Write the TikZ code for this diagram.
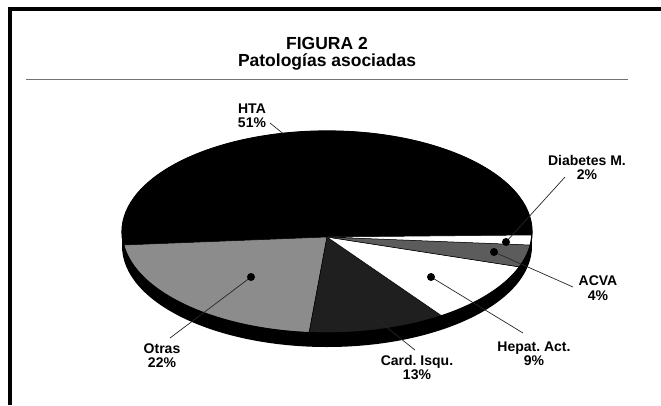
\documentclass[tikz,border=0pt]{standalone}
\usepackage{fontspec}
\setmainfont{Liberation Sans}
\frenchspacing
\definecolor{otrasgray}{gray}{0.55}
\definecolor{cardgray}{gray}{0.12}
\definecolor{acvagray}{gray}{0.36}
\tikzset{
  titletext/.style={font=\fontsize{17.5}{17}\selectfont\bfseries, inner sep=0pt},
  lbl/.style={font=\fontsize{14}{14.5}\selectfont\bfseries, align=center, inner sep=0pt},
  slice/.style={draw=black, line width=0.5pt},
  leader/.style={draw=black!85, line width=0.7pt},
  dot/.style={fill=black}
}
\begin{document}
\begin{tikzpicture}[x=1pt,y=-1pt]
\useasboundingbox (0,0) rectangle (661,405);
\draw[line width=4pt] (10,405) -- (10,8.5) -- (661,8.5);
\draw[black!55, line width=1pt] (26,79) -- (628,79);
\node[titletext, anchor=base] (fig) at (327,49) {FIGURA 2};
\node[titletext, anchor=base] (tit) at (327,66) {Patologías asociadas};
% pie
\begin{scope}[shift={(327,232)}, yscale=-1]
\fill[black] (0,-14) ellipse [x radius=205, y radius=101];
\fill[black] (-205,-14) rectangle (205,0);
\filldraw[slice, fill=black] (0,-5) -- (-1.7:205 and 101) arc[start angle=-1.7, end angle=187.4, x radius=205, y radius=101] -- cycle;
\filldraw[slice, fill=otrasgray] (0,-5) -- (187.4:205 and 101) arc[start angle=187.4, end angle=265, x radius=205, y radius=101] -- cycle;
\filldraw[slice, fill=cardgray] (0,-5) -- (265:205 and 101) arc[start angle=265, end angle=304, x radius=205, y radius=101] -- cycle;
\filldraw[slice, fill=white] (0,-5) -- (304:205 and 101) arc[start angle=304, end angle=339.8, x radius=205, y radius=101] -- cycle;
\filldraw[slice, fill=acvagray] (0,-5) -- (339.8:205 and 101) arc[start angle=339.8, end angle=352.6, x radius=205, y radius=101] -- cycle;
\filldraw[slice, fill=white] (0,-5) -- (352.6:205 and 101) arc[start angle=352.6, end angle=358.3, x radius=205, y radius=101] -- cycle;
\draw[line width=1.2pt] (0,0) ellipse [x radius=205, y radius=101];
\end{scope}
% labels
\node[lbl] (hta) at (252,115.8) {HTA\\51\%};
\node[lbl] (diab) at (587,167.5) {Diabetes M.\\2\%};
\node[lbl] (acva) at (598,288) {ACVA\\4\%};
\node[lbl] (hepat) at (534,353.5) {Hepat. Act.\\9\%};
\node[lbl] (card) at (417,367.5) {Card. Isqu.\\13\%};
\node[lbl] (otras) at (162,355.5) {Otras\\22\%};
\coordinate (htaEdge) at (283,133.5);
\coordinate (htaEnd) at (270,123);
\coordinate (diabDot) at (506,242);
\coordinate (diabEnd) at (565,177);
\coordinate (acvaDot) at (494,252);
\coordinate (acvaEnd) at (573,287);
\coordinate (hepatDot) at (431,277);
\coordinate (hepatEnd) at (523,333);
\coordinate (cardIn) at (375,318);
\coordinate (cardEnd) at (415,350);
\coordinate (otrasDot) at (251,277);
\coordinate (otrasEnd) at (170,338);
\draw[leader] (htaEdge) -- (htaEnd);
\draw[leader] (diabDot) -- (diabEnd);
\draw[leader] (acvaDot) -- (acvaEnd);
\draw[leader] (hepatDot) -- (hepatEnd);
\draw[leader] (cardIn) -- (cardEnd);
\draw[leader] (otrasDot) -- (otrasEnd);
\fill[dot] (diabDot) circle (4);
\fill[dot] (acvaDot) circle (4);
\fill[dot] (hepatDot) circle (4);
\fill[dot] (otrasDot) circle (4);
\end{tikzpicture}
\end{document}
